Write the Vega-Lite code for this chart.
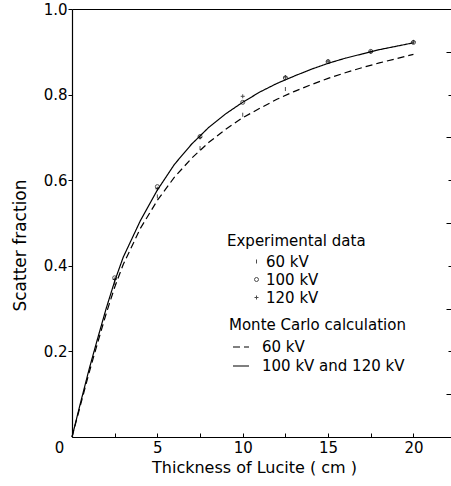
{
  "$schema": "https://vega.github.io/schema/vega-lite/v6.json",
  "width": 379,
  "height": 428,
  "autosize": "none",
  "padding": {"left": 72, "top": 9, "right": 0, "bottom": 49},
  "background": "white",
  "config": {
    "font": "DejaVu Sans",
    "view": {"stroke": null},
    "axis": {"domainColor": "black", "tickColor": "black", "labelColor": "black", "titleColor": "black", "labelFontSize": 15, "titleFontSize": 15, "titleFontWeight": "normal", "grid": false, "domainWidth": 1.2, "tickWidth": 1}
  },
  "datasets": {
    "curves": [
      {"series": "60 kV", "t": 0, "f": 0}, {"series": "60 kV", "t": 0.5, "f": 0.075}, {"series": "60 kV", "t": 1, "f": 0.15}, {"series": "60 kV", "t": 1.5, "f": 0.22}, {"series": "60 kV", "t": 2, "f": 0.288}, {"series": "60 kV", "t": 2.5, "f": 0.35}, {"series": "60 kV", "t": 3, "f": 0.403}, {"series": "60 kV", "t": 4, "f": 0.487}, {"series": "60 kV", "t": 5, "f": 0.553}, {"series": "60 kV", "t": 6, "f": 0.607}, {"series": "60 kV", "t": 7, "f": 0.651}, {"series": "60 kV", "t": 8, "f": 0.688}, {"series": "60 kV", "t": 9, "f": 0.719}, {"series": "60 kV", "t": 10, "f": 0.746}, {"series": "60 kV", "t": 11, "f": 0.768}, {"series": "60 kV", "t": 12, "f": 0.789}, {"series": "60 kV", "t": 13, "f": 0.807}, {"series": "60 kV", "t": 14, "f": 0.823}, {"series": "60 kV", "t": 15, "f": 0.838}, {"series": "60 kV", "t": 16, "f": 0.851}, {"series": "60 kV", "t": 17, "f": 0.863}, {"series": "60 kV", "t": 18, "f": 0.874}, {"series": "60 kV", "t": 19, "f": 0.884}, {"series": "60 kV", "t": 20, "f": 0.894},
      {"series": "100 kV and 120 kV", "t": 0, "f": 0}, {"series": "100 kV and 120 kV", "t": 0.5, "f": 0.08}, {"series": "100 kV and 120 kV", "t": 1, "f": 0.158}, {"series": "100 kV and 120 kV", "t": 1.5, "f": 0.23}, {"series": "100 kV and 120 kV", "t": 2, "f": 0.3}, {"series": "100 kV and 120 kV", "t": 2.5, "f": 0.364}, {"series": "100 kV and 120 kV", "t": 3, "f": 0.42}, {"series": "100 kV and 120 kV", "t": 4, "f": 0.505}, {"series": "100 kV and 120 kV", "t": 5, "f": 0.577}, {"series": "100 kV and 120 kV", "t": 6, "f": 0.637}, {"series": "100 kV and 120 kV", "t": 7, "f": 0.684}, {"series": "100 kV and 120 kV", "t": 8, "f": 0.723}, {"series": "100 kV and 120 kV", "t": 9, "f": 0.755}, {"series": "100 kV and 120 kV", "t": 10, "f": 0.782}, {"series": "100 kV and 120 kV", "t": 11, "f": 0.806}, {"series": "100 kV and 120 kV", "t": 12, "f": 0.826}, {"series": "100 kV and 120 kV", "t": 13, "f": 0.843}, {"series": "100 kV and 120 kV", "t": 14, "f": 0.859}, {"series": "100 kV and 120 kV", "t": 15, "f": 0.873}, {"series": "100 kV and 120 kV", "t": 16, "f": 0.885}, {"series": "100 kV and 120 kV", "t": 17, "f": 0.895}, {"series": "100 kV and 120 kV", "t": 18, "f": 0.905}, {"series": "100 kV and 120 kV", "t": 19, "f": 0.913}, {"series": "100 kV and 120 kV", "t": 20, "f": 0.921}
    ],
    "points": [
      {"kv": "60 kV", "t": 2.5, "f": 0.36}, {"kv": "60 kV", "t": 5, "f": 0.562}, {"kv": "60 kV", "t": 7.5, "f": 0.675}, {"kv": "60 kV", "t": 10, "f": 0.753}, {"kv": "60 kV", "t": 12.5, "f": 0.813},
      {"kv": "100 kV", "t": 2.5, "f": 0.372}, {"kv": "100 kV", "t": 5, "f": 0.585}, {"kv": "100 kV", "t": 7.5, "f": 0.702}, {"kv": "100 kV", "t": 10, "f": 0.782}, {"kv": "100 kV", "t": 12.5, "f": 0.839}, {"kv": "100 kV", "t": 15, "f": 0.877}, {"kv": "100 kV", "t": 17.5, "f": 0.901}, {"kv": "100 kV", "t": 20, "f": 0.922},
      {"kv": "120 kV", "t": 2.5, "f": 0.368}, {"kv": "120 kV", "t": 5, "f": 0.58}, {"kv": "120 kV", "t": 7.5, "f": 0.7}, {"kv": "120 kV", "t": 10, "f": 0.796}, {"kv": "120 kV", "t": 12.5, "f": 0.841}, {"kv": "120 kV", "t": 15, "f": 0.878}, {"kv": "120 kV", "t": 17.5, "f": 0.9}, {"kv": "120 kV", "t": 20, "f": 0.923}
    ]
  },
  "resolve": {"axis": {"x": "independent", "y": "independent"}},
  "layer": [
    {
      "data": {"name": "curves"},
      "transform": [{"filter": "datum.series == '60 kV'"}],
      "mark": {"type": "line", "color": "black", "strokeWidth": 1.2},
      "encoding": {
        "x": {"field": "t", "type": "quantitative", "scale": {"domain": [0, 22.2], "nice": false, "zero": false},
          "axis": {"title": "Thickness of Lucite ( cm )", "titleFontSize": 16, "values": [0, 2.5, 5, 7.5, 10, 12.5, 15, 17.5, 20], "tickSize": -4, "labelPadding": 7, "labelFlush": false,
            "labelExpr": "datum.value % 5 == 0 ? datum.label : ''", "labelOffset": {"condition": {"test": "datum.value == 0", "value": -13}, "value": 0},
            "titleX": 182, "titleY": 30, "titleBaseline": "middle", "titleAnchor": "middle", "titleAlign": "center"}},
        "y": {"field": "f", "type": "quantitative", "scale": {"domain": [0, 1], "nice": false},
          "axis": {"title": "Scatter fraction", "titleFontSize": 17, "values": [0.2, 0.4, 0.6, 0.8, 1.0], "format": ".1f", "tickSize": 4, "labelPadding": 1,
            "titleX": -52, "titleY": 236, "titleAngle": -90, "titleBaseline": "middle", "titleAlign": "center", "titleAnchor": "middle"}},
        "strokeDash": {"field": "series", "type": "nominal",
          "scale": {"domain": ["60 kV", "100 kV and 120 kV"], "range": [[7, 4], [1, 0]]},
          "legend": {"title": "Monte Carlo calculation", "orient": "none", "legendX": 157, "legendY": 309, "symbolType": "stroke", "symbolSize": 256, "symbolStrokeWidth": 1.2, "symbolStrokeColor": "black", "symbolOffset": 3, "labelOffset": 12, "titleFontSize": 15, "titleFontWeight": "normal", "labelFontSize": 15, "titleColor": "black", "labelColor": "black", "titlePadding": 5, "rowPadding": 2}}
      }
    },
    {
      "data": {"name": "curves"},
      "transform": [{"filter": "datum.series != '60 kV'"}],
      "mark": {"type": "line", "color": "black", "strokeWidth": 1.2},
      "encoding": {
        "x": {"field": "t", "type": "quantitative", "axis": null},
        "y": {"field": "f", "type": "quantitative",
          "axis": {"title": null, "values": [0.1, 0.3, 0.5, 0.7, 0.9], "tickSize": -5, "labels": false, "domain": false}},
        "strokeDash": {"field": "series", "type": "nominal"}
      }
    },
    {
      "data": {"name": "points"},
      "mark": {"type": "point", "filled": false, "color": "black", "strokeWidth": 1, "size": 16},
      "encoding": {
        "x": {"field": "t", "type": "quantitative",
          "axis": {"orient": "top", "title": null, "ticks": false, "labels": false}},
        "y": {"field": "f", "type": "quantitative",
          "axis": {"orient": "right", "title": null, "values": [0.1, 0.2, 0.3, 0.4, 0.5, 0.6, 0.7, 0.8, 0.9], "tickSize": -3, "labels": false, "domain": false}},
        "shape": {"field": "kv", "type": "nominal",
          "scale": {"domain": ["60 kV", "100 kV", "120 kV"], "range": ["M0,-1L0,1", "circle", "M-1,0L1,0M0,-1L0,1"]},
          "legend": {"title": "Experimental data", "orient": "none", "legendX": 155, "legendY": 225, "symbolSize": 16, "symbolStrokeColor": "black", "symbolFillColor": "transparent", "symbolStrokeWidth": 1, "symbolOffset": 22, "labelOffset": 2, "titleFontSize": 15, "titleFontWeight": "normal", "labelFontSize": 15, "titleColor": "black", "labelColor": "black", "titlePadding": 5, "rowPadding": 2}}
      }
    }
  ]
}
